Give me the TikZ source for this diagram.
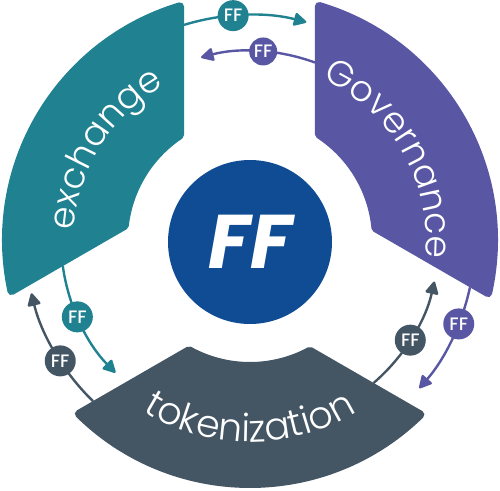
\documentclass[tikz,border=0pt]{standalone}
\usepackage{fontspec}
\setmainfont{Poppins}
\newfontfamily\lightfont{Poppins Light}
\newfontfamily\medfont{Poppins Medium}
\usetikzlibrary{arrows.meta,decorations.text}

\definecolor{exteal}{RGB}{32,130,145}
\definecolor{govpurple}{RGB}{89,87,163}
\definecolor{tokslate}{RGB}{68,86,100}
\definecolor{coreblue}{RGB}{16,76,148}

\newcommand\ringfont{\lightfont\fontsize{36}{36}\selectfont\color{white}}
\newcommand\ringfontwide{\lightfont\fontsize{38}{38}\selectfont\color{white}}

\begin{document}
\begin{tikzpicture}[
  sector/.style={fill=#1, draw=#1, line width=8pt, line join=round},
  flow/.style={draw=#1, line width=2.4pt, -{Triangle[length=14pt,width=14pt,round]}},
  badge/.style={circle, fill=#1, minimum size=31pt, inner sep=0pt, text=white,
    font=\medfont\fontsize{18}{18}\selectfont},
  ringtext/.style={decorate, decoration={text along path, text align=center, text={|\ringfont|#1}}},
  ringtextwide/.style={decorate, decoration={text along path, text align=center, text={|\ringfontwide|#1}}}
]
\useasboundingbox (-250pt,-250pt) rectangle (250pt,240pt);

% ring sectors (outline stroke rounds the corners)
\path[sector=exteal]
  ({90+asin(70/244)}:244pt) arc[start angle={90+asin(70/244)}, end angle={210-asin(75/244)}, radius=244pt]
  -- ({210-asin(75/126)}:126pt) arc[start angle={210-asin(75/126)}, end angle={90+asin(70/126)}, radius=126pt]
  -- cycle;
\path[sector=govpurple]
  ({90-asin(69/244)}:244pt) arc[start angle={90-asin(69/244)}, end angle={-30+asin(73/244)}, radius=244pt]
  -- ({-30+asin(73/126)}:126pt) arc[start angle={-30+asin(73/126)}, end angle={90-asin(69/126)}, radius=126pt]
  -- cycle;
\path[sector=tokslate]
  ({210+asin(65/244)}:244pt) arc[start angle={210+asin(65/244)}, end angle={330-asin(66/244)}, radius=244pt]
  -- ({330-asin(66/126)}:126pt) arc[start angle={330-asin(66/126)}, end angle={210+asin(65/126)}, radius=126pt]
  -- cycle;

% sector labels
\path[ringtext=exchange] (193:176pt) arc[start angle=193, end angle=103, radius=176pt];
\path[ringtext=Governance] (80:176pt) arc[start angle=80, end angle=-20, radius=176pt];
\path[ringtextwide=tokenization] (225:202pt) arc[start angle=225, end angle=315, radius=202pt];

% core
\node[circle, fill=coreblue, minimum size=164pt, inner sep=0pt, text=white,
  font=\fontsize{76}{76}\selectfont\bfseries\itshape] (core) at (0,-2pt) {FF};

% exchange -> Governance
\coordinate (eg) at ({90+asin(66/225)}:225pt);
\draw[flow=exteal] (eg) arc[start angle={90+asin(66/225)}, end angle=75.5, radius=225pt];
\node[badge=exteal] (beg) at (94.3:225pt) {FF};

% Governance -> exchange
\coordinate (ge) at ({90-asin(65/189)}:189pt);
\draw[flow=govpurple] (ge) arc[start angle={90-asin(65/189)}, end angle=105, radius=189pt];
\node[badge=govpurple, minimum size=28pt] (bge) at (86:189pt) {FF};

% exchange -> tokenization
\coordinate (et) at ({210-asin(71/189)}:189pt);
\draw[flow=exteal] (et) arc[start angle={210-asin(71/189)}, end angle=224.6, radius=189pt];
\node[badge=exteal] (bet) at (204:189pt) {FF};

% tokenization -> exchange
\coordinate (te) at ({210+asin(61/225)}:225pt);
\draw[flow=tokslate] (te) arc[start angle={210+asin(61/225)}, end angle=193.7, radius=225pt];
\node[badge=tokslate] (bte) at (212.5:225pt) {FF};

% tokenization -> Governance
\coordinate (tg) at ({330-asin(62/189)}:189pt);
\draw[flow=tokslate] (tg) arc[start angle={330-asin(62/189)}, end angle=347.3, radius=189pt];
\node[badge=tokslate] (btg) at (328:189pt) {FF};

% Governance -> tokenization
\coordinate (gt) at ({-30+asin(69/225)}:225pt);
\draw[flow=govpurple] (gt) arc[start angle={-30+asin(69/225)}, end angle=-41.2, radius=225pt];
\node[badge=govpurple] (bgt) at (-21.9:225pt) {FF};
\end{tikzpicture}
\end{document}
